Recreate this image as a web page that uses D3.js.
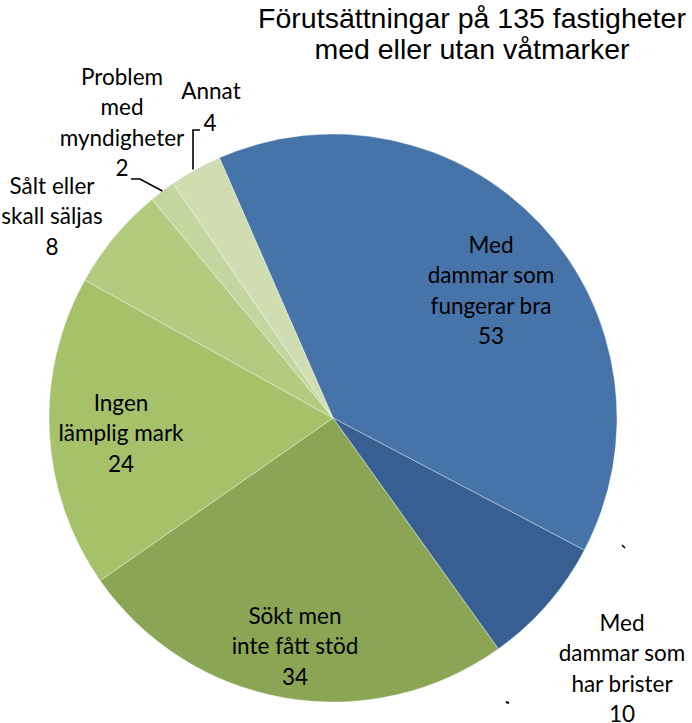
<!DOCTYPE html>
<html>
<head>
<meta charset="utf-8">
<script src="https://cdn.jsdelivr.net/npm/d3@7"></script>
<style>
  body { margin: 0; background: #fff; }
  svg { display: block; }
</style>
</head>
<body>
<div class="container"></div>
<script>
const width = 692;
const height = 723;

// data
const categories = [
  ['Med', 'dammar som', 'fungerar bra'],
  ['Med', 'dammar som', 'har brister'],
  ['Sökt men', 'inte fått stöd'],
  ['Ingen', 'lämplig mark'],
  ['Sålt eller', 'skall säljas'],
  ['Problem', 'med', 'myndigheter'],
  ['Annat']
];
const values = [53, 10, 34, 24, 8, 2, 4];
const titleLines = ['Förutsättningar på 135 fastigheter', 'med eller utan våtmarker'];

const colors = ['#4674a8', '#375f91', '#8aa654', '#a5c16a', '#b2cb7f', '#c4d6a0', '#cfddb1'];

// label anchor (first line centre) for each slice
const labelPos = [
  [491, 247], [622, 625], [295, 618], [121, 405], [52, 188], [122, 79], [211, 93]
];
const lineGap = 30.5;

const cx = 333, cy = 418, radius = 284;
const startDeg = -23.6;

const svg = d3.select('.container')
  .append('svg')
  .attr('width', width)
  .attr('height', height);

svg.append('text')
  .attr('x', 472)
  .attr('y', 0)
  .attr('text-anchor', 'middle')
  .attr('font-family', 'Liberation Sans, Arial, sans-serif')
  .attr('font-size', 28.5)
  .selectAll('tspan')
  .data(titleLines)
  .enter()
  .append('tspan')
  .attr('x', 472)
  .attr('y', (d, i) => 28 + i * 30.5)
  .text(d => d);

const pie = d3.pie()
  .sort(null)
  .value(d => d)
  .startAngle(startDeg * Math.PI / 180)
  .endAngle(startDeg * Math.PI / 180 + 2 * Math.PI);

const arc = d3.arc().innerRadius(0).outerRadius(radius);

const arcs = pie(values);

const g = svg.append('g').attr('transform', `translate(${cx},${cy})`);

g.selectAll('path')
  .data(arcs)
  .enter()
  .append('path')
  .attr('d', arc)
  .attr('fill', (d, i) => colors[i])
  .attr('stroke', 'rgba(255,255,255,0.45)')
  .attr('stroke-width', 0.8);

// leader lines for the two small slices
const edge = (d, r) => {
  const a = (d.startAngle + d.endAngle) / 2;
  return [cx + r * Math.sin(a), cy - r * Math.cos(a)];
};

const leaders = [
  { i: 5, pts: [[131, 179], [140, 179]] },
  { i: 6, pts: [[200, 130], [193, 130]] }
];
const lineGen = d3.line();
leaders.forEach(l => {
  const e = edge(arcs[l.i], radius);
  const pts = l.pts.slice();
  if (l.i === 6) pts.push([193, e[1]]);
  else pts.push(e);
  svg.append('path')
    .attr('d', lineGen(pts))
    .attr('fill', 'none')
    .attr('stroke', '#000')
    .attr('stroke-width', 1.6);
});

// stray leader remnants beside "har brister"
svg.append('path').attr('d', lineGen([[622, 545], [625, 548]]))
  .attr('stroke', '#000').attr('stroke-width', 1.5);
svg.append('path').attr('d', lineGen([[506, 702], [509, 703]]))
  .attr('stroke', '#000').attr('stroke-width', 2);

// labels
const labels = svg.append('g')
  .attr('font-family', 'Lato, Carlito, Calibri, sans-serif')
  .attr('font-size', 22.5)
  .attr('fill', '#000')
  .attr('text-anchor', 'middle');

categories.forEach((lines, i) => {
  const [x, y] = labelPos[i];
  const all = lines.concat([String(values[i])]);
  const t = labels.append('text');
  all.forEach((s, j) => {
    let tx = x, ty = y + j * lineGap;
    if (i === 6 && j === 1) { tx = 210; ty = 125; }
    t.append('tspan')
      .attr('x', tx)
      .attr('y', ty)
      .attr('dominant-baseline', 'middle')
      .text(s);
  });
});
</script>
</body>
</html>
